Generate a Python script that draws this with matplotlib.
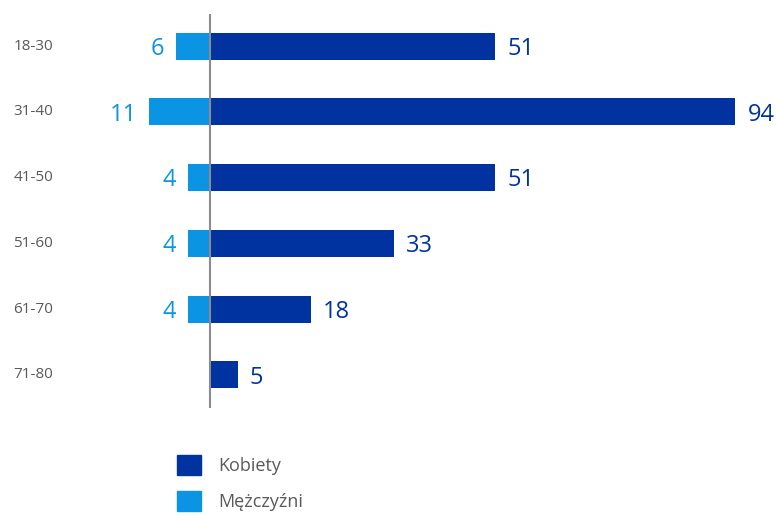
import matplotlib.pyplot as plt
from matplotlib.patches import Patch

# dane: liczba osób w grupach wiekowych
grupy = ["18-30", "31-40", "41-50", "51-60", "61-70", "71-80"]
kobiety = [51, 94, 51, 33, 18, 5]
mezczyzni = [6, 11, 4, 4, 4, 0]

granat = "#0033a0"
blekit = "#0a94e3"
szary = "#595959"

plt.rcParams["font.family"] = ["Open Sans", "DejaVu Sans"]

fig = plt.figure(figsize=(7.76, 5.15), dpi=100)
ax = fig.add_axes([0, 0, 1, 1])
ax.set_xlim(-37.57, 101.25)
ax.set_ylim(7.13, -0.70)
ax.axis("off")

y = list(range(len(grupy)))
ax.barh(y, kobiety, height=0.41, color=granat)
ax.barh(y, [-m for m in mezczyzni], height=0.41, color=blekit)

# pionowa linia osi zero
ax.plot([0, 0], [-0.49, 5.50], color="#8c8c8c", lw=1.5, solid_capstyle="butt")

for i, g in enumerate(grupy):
    ax.text(-35.2, i, g, ha="left", va="center", fontsize=11, color=szary)
    ax.annotate(str(kobiety[i]), (kobiety[i], i), xytext=(8.6, -2),
                textcoords="offset points", ha="left", va="center",
                fontsize=17, color=granat)
    if mezczyzni[i] > 0:
        ax.annotate(str(mezczyzni[i]), (-mezczyzni[i], i), xytext=(-8.6, -2),
                    textcoords="offset points", ha="right", va="center",
                    fontsize=17, color=blekit)

uchwyty = [Patch(color=granat, label="Kobiety"),
           Patch(color=blekit, label="Mężczyźni")]
fig.legend(handles=uchwyty, loc="upper left", bbox_to_anchor=(0.228, 0.117),
           frameon=False, fontsize=13, labelcolor=szary,
           handlelength=1.35, handleheight=1.35, handletextpad=0.95,
           labelspacing=0.88, borderaxespad=0, borderpad=0)

fig.savefig("out.png", dpi=100)
